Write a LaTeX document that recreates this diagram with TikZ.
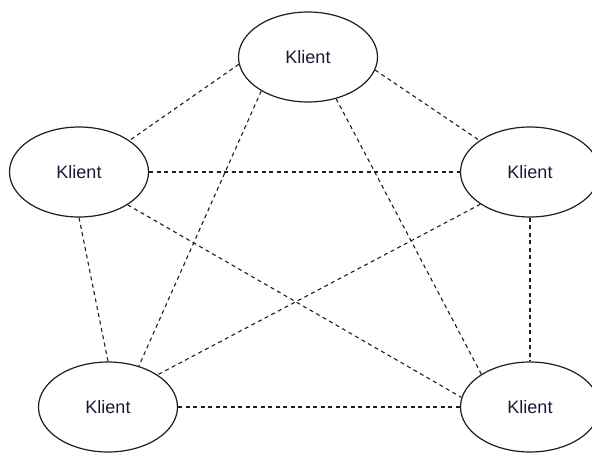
\documentclass[tikz,border=0pt]{standalone}
\usepackage{fontspec}
\setmainfont{Liberation Sans}
\usetikzlibrary{shapes.geometric}
\definecolor{klienttxt}{RGB}{35,20,55}
\definecolor{linecol}{RGB}{30,30,30}
\begin{document}
\begin{tikzpicture}[x=1pt, y=-1pt]
\tikzset{ klient/.style={draw=linecol, ellipse, line width=1.2pt, fill=white,
            minimum width=139pt, minimum height=90pt, inner sep=0pt,
            text=klienttxt, font=\fontsize{18}{21}\selectfont},
          link/.style={draw=linecol, line width=1.1pt, dash pattern=on 4pt off 3.5pt} }

\useasboundingbox (0,0) rectangle (592,453);

% the five clients
\node [klient] (KT)  at (308,57)  {Klient};
\node [klient] (KL)  at (79,172)  {Klient};
\node [klient] (KR)  at (530,172) {Klient};
\node [klient] (KBL) at (108,407) {Klient};
\node [klient] (KBR) at (530,407) {Klient};

% every client linked to every other
\draw [link] (KT.186)  -- (KL.32);
\draw [link] (KT.349)  -- (KR.148);
\draw [link] (KT.216)  -- (KBL.53);
\draw [link] (KT.304)  -- (KBR.146);
\draw [link] (KL.east) -- (KR.west);
\draw [link] (KL.south) -- (KBL.north);
\draw [link] (KL.326)  -- (KBR.172);
\draw [link] (KR.213)  -- (KBL.33);
\draw [link] (KR.south) -- (KBR.north);
\draw [link] (KBL.east) -- (KBR.west);

\end{tikzpicture}
\end{document}
